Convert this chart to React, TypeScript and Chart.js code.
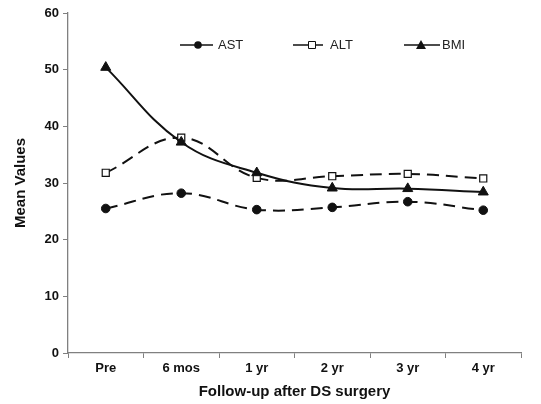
import React, { useEffect, useRef } from "react";
import { Chart, registerables } from "chart.js";

Chart.register(...registerables);

const categories = ["Pre", "6 mos", "1 yr", "2 yr", "3 yr", "4 yr"];
const astValues = [25.5, 28.2, 25.3, 25.7, 26.7, 25.2];
const altValues = [31.8, 38.0, 30.9, 31.2, 31.6, 30.8];
const bmiValues = [50.4, 37.2, 31.8, 29.1, 29.0, 28.4];
const seriesNames = ["AST", "ALT", "BMI"];
const yTicks = [0, 10, 20, 30, 40, 50, 60];

const FONT = "'Liberation Sans', Arial, sans-serif";
const INK = "#111";
const AXIS = "#808080";

const legendPlugin = {
  id: "customLegend",
  afterDraw(chart: any) {
    const ctx = chart.ctx;
    const y = 45;
    const items = [
      { x0: 180, x1: 213, mx: 198, tx: 218, style: "circle" },
      { x0: 293, x1: 323, mx: 312, tx: 330, style: "rect" },
      { x0: 404, x1: 440, mx: 421, tx: 442, style: "triangle" },
    ];
    ctx.save();
    items.forEach((it, i) => {
      ctx.strokeStyle = INK;
      ctx.lineWidth = 1.5;
      ctx.setLineDash([]);
      ctx.beginPath();
      ctx.moveTo(it.x0, y);
      ctx.lineTo(it.x1, y);
      ctx.stroke();
      ctx.beginPath();
      if (it.style === "circle") {
        ctx.fillStyle = INK;
        ctx.arc(it.mx, y, 3.8, 0, Math.PI * 2);
        ctx.fill();
      } else if (it.style === "rect") {
        ctx.fillStyle = "#fff";
        ctx.lineWidth = 1;
        ctx.rect(it.mx - 3.5, y - 3.5, 7, 7);
        ctx.fill();
        ctx.stroke();
      } else {
        ctx.fillStyle = INK;
        ctx.moveTo(it.mx, y - 5);
        ctx.lineTo(it.mx + 5, y + 4);
        ctx.lineTo(it.mx - 5, y + 4);
        ctx.closePath();
        ctx.fill();
      }
      ctx.fillStyle = "#222";
      ctx.font = `13px ${FONT}`;
      ctx.textBaseline = "middle";
      ctx.textAlign = "left";
      ctx.fillText(seriesNames[i], it.tx, y + 0.5);
    });
    ctx.restore();
  },
};

export default function App() {
  const ref = useRef<HTMLCanvasElement | null>(null);

  useEffect(() => {
    document.body.style.margin = "0";
    const canvas = ref.current;
    if (!canvas) return;
    const chart = new Chart(canvas, {
      type: "line",
      data: {
        labels: categories,
        datasets: [
          {
            label: seriesNames[0],
            data: astValues,
            borderColor: INK,
            backgroundColor: INK,
            borderWidth: 2,
            borderDash: [12, 7],
            pointStyle: "circle",
            pointRadius: 4.3,
            pointBackgroundColor: INK,
            pointBorderColor: INK,
            pointBorderWidth: 1,
            tension: 0.4,
            order: 1,
          },
          {
            label: seriesNames[1],
            data: altValues,
            borderColor: INK,
            backgroundColor: "#fff",
            borderWidth: 2,
            borderDash: [12, 7],
            pointStyle: "rect",
            pointRadius: 5,
            pointBackgroundColor: "#fff",
            pointBorderColor: INK,
            pointBorderWidth: 1.2,
            tension: 0.4,
            order: 2,
          },
          {
            label: seriesNames[2],
            data: bmiValues,
            borderColor: INK,
            backgroundColor: INK,
            borderWidth: 2,
            pointStyle: "triangle",
            pointRadius: 5.8,
            pointBackgroundColor: INK,
            pointBorderColor: INK,
            pointBorderWidth: 1,
            tension: 0.4,
            order: 0,
          },
        ],
      },
      options: {
        animation: false,
        responsive: false,
        layout: { padding: { top: 13, right: 20, left: 0, bottom: 0 } },
        plugins: {
          legend: { display: false },
          tooltip: { enabled: false },
        },
        scales: {
          x: {
            offset: true,
            grid: {
              drawOnChartArea: false,
              drawTicks: true,
              tickLength: 5,
              color: AXIS,
              offset: true,
            },
            border: { color: AXIS, width: 1.3 },
            ticks: {
              color: INK,
              font: { family: FONT, size: 13, weight: "bold" },
              padding: 3,
              maxRotation: 0,
            },
            title: {
              display: true,
              text: "Follow-up after DS surgery",
              color: INK,
              font: { family: FONT, size: 15, weight: "bold" },
              padding: { top: 0, bottom: 3 },
            },
            afterFit(scale: any) {
              scale.height = 51;
            },
          },
          y: {
            min: 0,
            max: 60,
            afterBuildTicks(scale: any) {
              scale.ticks = yTicks.map((v) => ({ value: v }));
            },
            grid: {
              drawOnChartArea: false,
              drawTicks: true,
              tickLength: 5,
              color: AXIS,
            },
            border: { color: AXIS, width: 1.3 },
            ticks: {
              color: INK,
              font: { family: FONT, size: 13, weight: "bold" },
              padding: 4,
            },
            title: {
              display: true,
              text: "Mean Values",
              color: INK,
              font: { family: FONT, size: 15, weight: "bold" },
              padding: { top: 12, bottom: 0 },
            },
            afterFit(scale: any) {
              scale.width = 68;
            },
          },
        },
      },
      plugins: [legendPlugin],
    });
    return () => chart.destroy();
  }, []);

  return (
    <div style={{ position: "relative", width: 541, height: 404, background: "#fff" }}>
      <canvas ref={ref} width={541} height={404} style={{ display: "block" }} />
    </div>
  );
}
